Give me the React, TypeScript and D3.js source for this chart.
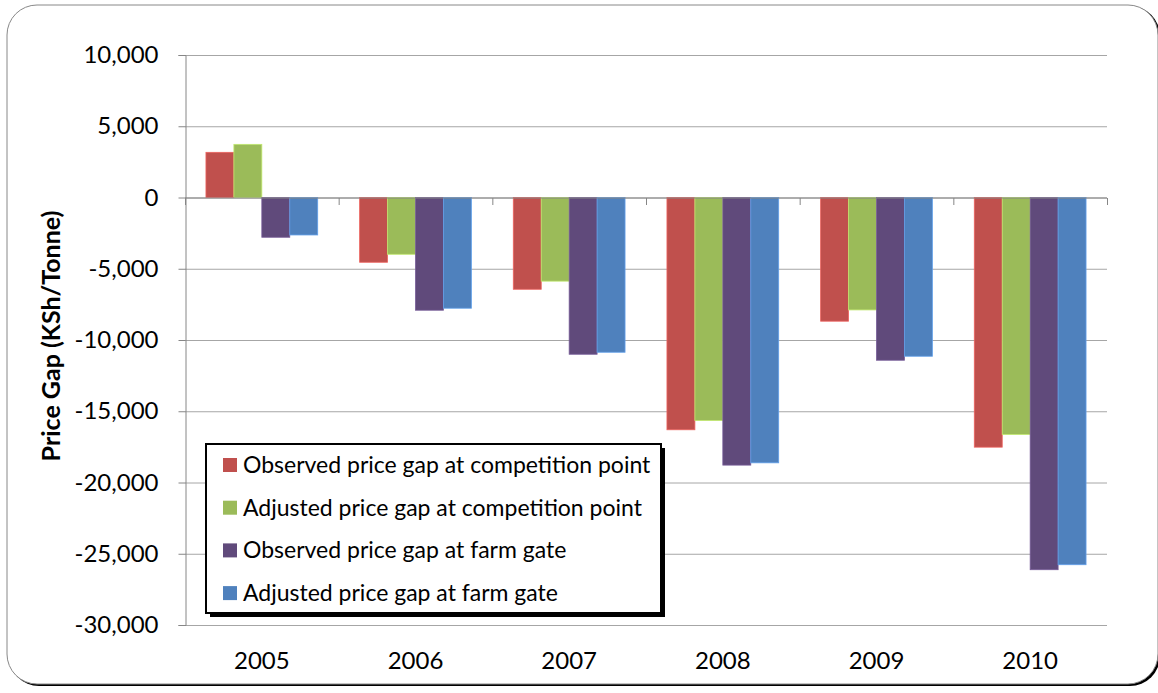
import * as d3 from "d3";
import { useEffect, useRef } from "react";

const categories = ["2005", "2006", "2007", "2008", "2009", "2010"];
const seriesNames = [
  "Observed price gap at competition point",
  "Adjusted price gap at competition point",
  "Observed price gap at farm gate",
  "Adjusted price gap at farm gate",
];
const seriesColors = ["#c0504d", "#9bbb59", "#604a7b", "#4f81bd"];
const observedCompetition = [3170, -4545, -6440, -16300, -8680, -17520];
const adjustedCompetition = [3730, -3985, -5870, -15650, -7890, -16630];
const observedFarmGate = [-2790, -7910, -11000, -18780, -11420, -26120];
const adjustedFarmGate = [-2630, -7770, -10860, -18620, -11140, -25770];
const yTicks = [10000, 5000, 0, -5000, -10000, -15000, -20000, -25000, -30000];

const W = 1158, H = 693;
const FONT = "Lato, 'Open Sans', sans-serif";

export default function App() {
  const ref = useRef<SVGSVGElement>(null);

  useEffect(() => {
    const svg = d3.select(ref.current);
    svg.selectAll("*").remove();

    const series = [observedCompetition, adjustedCompetition, observedFarmGate, adjustedFarmGate];
    const rows = categories.map((c, i) => ({ cat: c, values: series.map(s => s[i]) }));

    const left = 185, right = 1107, top = 55, bottom = 625;

    // outer frame, shadow mostly visible at the bottom-right corner
    svg.append("rect")
      .attr("x", 9).attr("y", 6).attr("width", W - 7).attr("height", H - 13)
      .attr("rx", 30).attr("fill", "#000");
    svg.append("rect")
      .attr("x", 7).attr("y", 5).attr("width", W - 7).attr("height", H - 14)
      .attr("rx", 30).attr("fill", "#fff").attr("stroke", "#888").attr("stroke-width", 1);

    const x0 = d3.scaleBand().domain(categories).range([left, right]).padding(0);
    const gap = x0.bandwidth() * 1.5 / 5.5;
    const x1 = d3.scaleBand().domain(seriesNames)
      .range([gap / 2, x0.bandwidth() - gap / 2]).padding(0);
    const y = d3.scaleLinear().domain([-30000, 10000]).range([bottom, top]);

    // gridlines
    svg.append("g").selectAll("line").data(yTicks).enter().append("line")
      .attr("x1", left).attr("x2", right)
      .attr("y1", d => y(d) + 0.5).attr("y2", d => y(d) + 0.5)
      .attr("stroke", "#a6a6a6").attr("stroke-width", 1);

    // y axis
    const yAxis = svg.append("g").attr("transform", `translate(${left + 0.5},0)`)
      .call(d3.axisLeft(y).tickValues(yTicks).tickSize(7).tickPadding(20)
        .tickFormat(d => d3.format(",")(d as number).replace("\u2212", "-")));
    yAxis.select(".domain").attr("stroke", "#868686");
    yAxis.selectAll(".tick line").attr("stroke", "#868686");
    yAxis.selectAll(".tick text")
      .attr("font-family", FONT).attr("font-size", 24).attr("fill", "#000");

    // bars
    const groups = svg.append("g").selectAll("g").data(rows).enter().append("g")
      .attr("transform", d => `translate(${x0(d.cat)},0)`);
    groups.selectAll("rect")
      .data(d => d.values.map((v, i) => ({ v, name: seriesNames[i], color: seriesColors[i] })))
      .enter().append("rect")
      .attr("x", d => x1(d.name)!)
      .attr("width", x1.bandwidth())
      .attr("y", d => y(Math.max(0, d.v)))
      .attr("height", d => Math.abs(y(d.v) - y(0)))
      .attr("fill", d => d.color)
      .attr("stroke", d => d3.color(d.color)!.brighter(0.6).toString())
      .attr("stroke-width", 0.8);

    // x axis at zero
    const xAxis = svg.append("g").attr("transform", `translate(0,${y(0) + 0.5})`);
    xAxis.append("line").attr("x1", left).attr("x2", right)
      .attr("stroke", "#868686");
    xAxis.selectAll("line.tick").data(d3.range(categories.length + 1)).enter()
      .append("line").attr("class", "tick")
      .attr("x1", i => left + 0.5 + i * x0.step()).attr("x2", i => left + 0.5 + i * x0.step())
      .attr("y1", 0).attr("y2", 7).attr("stroke", "#868686");

    // category labels
    svg.append("g").selectAll("text").data(categories).enter().append("text")
      .attr("x", d => x0(d)! + x0.bandwidth() / 2)
      .attr("y", 669)
      .attr("text-anchor", "middle")
      .attr("font-family", FONT).attr("font-size", 24)
      .text(d => d);

    // y title
    svg.append("text")
      .attr("transform", `translate(60,336) rotate(-90)`)
      .attr("text-anchor", "middle")
      .attr("font-family", FONT).attr("font-size", 25).attr("font-weight", "bold")
      .text("Price Gap (KSh/Tonne)");

    // legend
    const lx = 206, ly = 444, lw = 455, lh = 169;
    svg.append("rect").attr("x", lx + 4).attr("y", ly + 4).attr("width", lw).attr("height", lh)
      .attr("fill", "#000");
    svg.append("rect").attr("x", lx).attr("y", ly).attr("width", lw).attr("height", lh)
      .attr("fill", "#fff").attr("stroke", "#000").attr("stroke-width", 2);
    const items = svg.append("g").selectAll("g").data(seriesNames).enter().append("g")
      .attr("transform", (d, i) => `translate(${lx + 17},${ly + 21 + i * 42.7})`);
    items.append("rect").attr("x", 0).attr("y", -7).attr("width", 14).attr("height", 14)
      .attr("fill", (d, i) => seriesColors[i]);
    items.append("text").attr("x", 20).attr("y", 0).attr("dy", "0.35em")
      .attr("font-family", FONT).attr("font-size", 23)
      .text(d => d);
  }, []);

  return (
    <svg ref={ref} width={W} height={H}
      style={{ position: "absolute", left: 0, top: 0, background: "#fff" }} />
  );
}
